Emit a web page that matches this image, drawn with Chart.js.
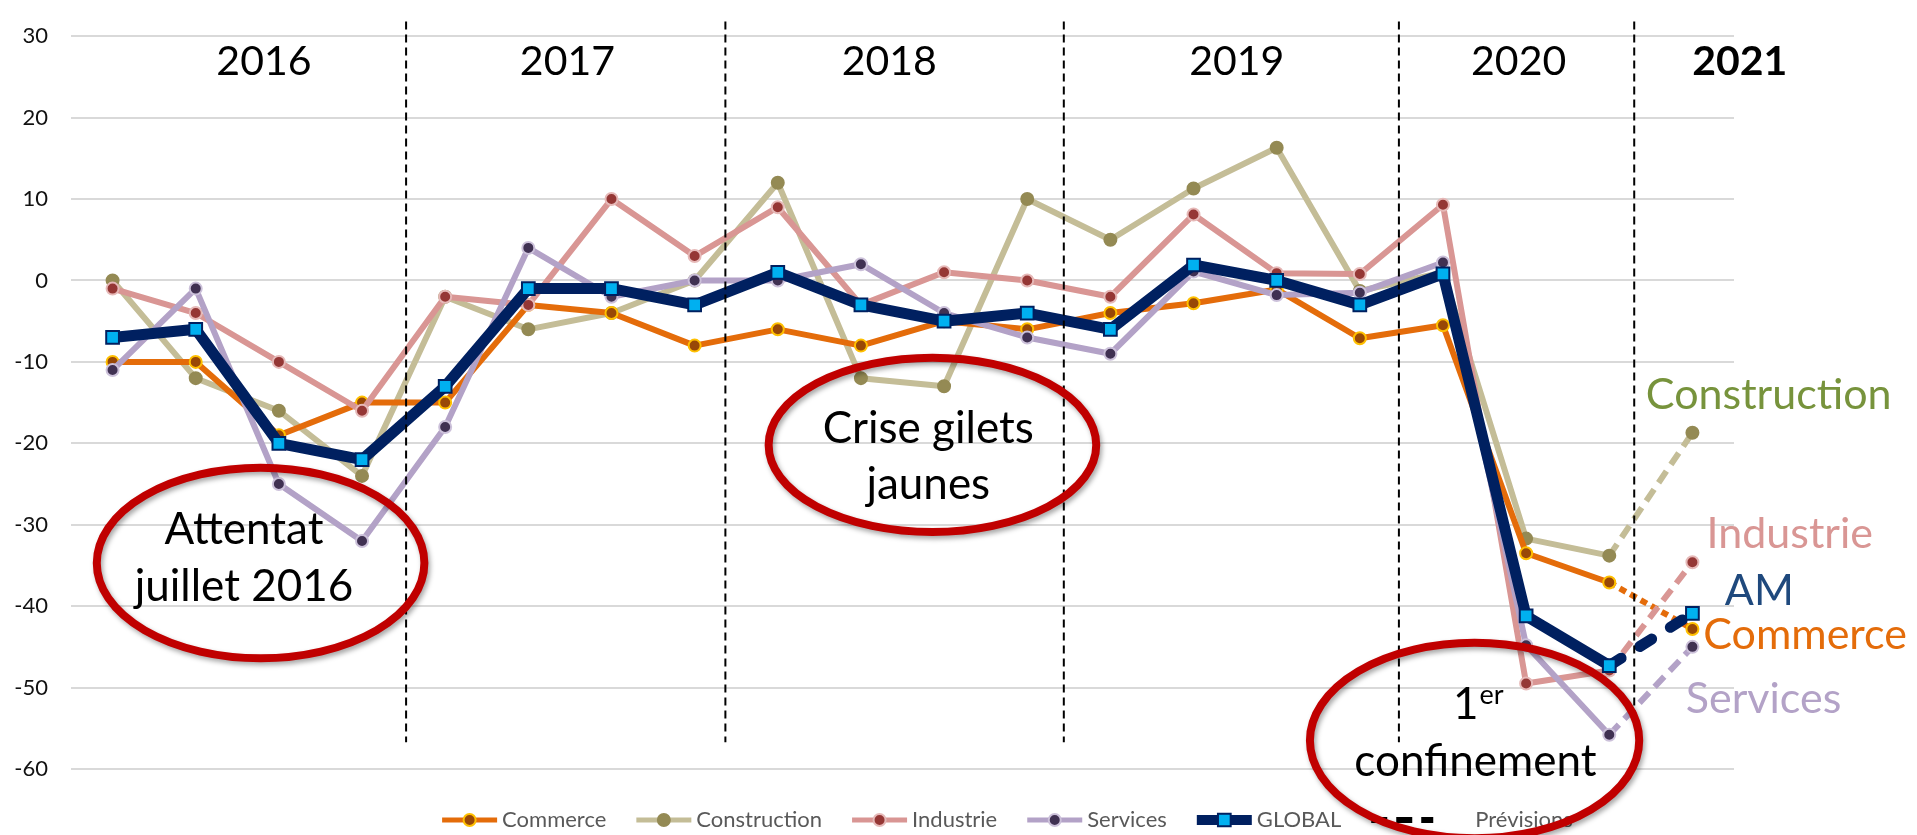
<!DOCTYPE html>
<html>
<head>
<meta charset="utf-8">
<title>Climat des affaires</title>
<script src="https://cdn.jsdelivr.net/npm/chart.js@4.4.1/dist/chart.umd.min.js"></script>
<style>
  html, body { margin: 0; padding: 0; background: #fff; }
  #wrap { width: 1917px; height: 835px; }
</style>
</head>
<body>
<div id="wrap"><canvas id="climat" width="1917" height="835"></canvas></div>
<script>
// periods : quarters 2016-2020, 2021 = forecast
var periods = ['2016 T1','2016 T2','2016 T3','2016 T4',
               '2017 T1','2017 T2','2017 T3','2017 T4',
               '2018 T1','2018 T2','2018 T3','2018 T4',
               '2019 T1','2019 T2','2019 T3','2019 T4',
               '2020 T1','2020 T2','2020 T3','2021'];
var years = ['2016','2017','2018','2019','2020','2021'];

var commerce     = [-10, -10, -19, -15, -15, -3, -4, -8, -6, -8, -5, -6, -4, -2.8, -1.1, -7.1, -5.5, -33.5, -37.1, -42.8];
var construction = [0, -12, -16, -24, -2, -6, -4, 0, 12, -12, -13, 10, 5, 11.3, 16.3, -1.3, 1, -31.7, -33.8, -18.7];
var industrie    = [-1, -4, -10, -16, -2, -3, 10, 3, 9, -3, 1, 0, -2, 8.1, 0.9, 0.8, 9.3, -49.5, -47.9, -34.6];
var services     = [-11, -1, -25, -32, -18, 4, -2, 0, 0, 2, -4, -7, -9, 1.1, -1.8, -1.5, 2.2, -44.8, -55.8, -45];
var global       = [-7, -6, -20, -22, -13, -1, -1, -3, 1, -3, -5, -4, -6, 1.9, 0, -3, 0.8, -41.2, -47.3, -40.9];

var yTicks = [30, 20, 10, 0, -10, -20, -30, -40, -50, -60];
var forecastFrom = periods.length - 1;   // last segment is dashed

var FONT = "Lato, 'Open Sans', sans-serif";
Chart.defaults.font.family = FONT;

// dashed only on the forecast segment
function forecastDash(dash) {
  return function(ctx) { return ctx.p1DataIndex === forecastFrom ? dash : undefined; };
}

function serie(label, data, line, fill, border, order, dash) {
  return {
    label: label,
    data: data,
    borderColor: line,
    borderWidth: 6,
    borderJoinStyle: 'round',
    pointRadius: 6,
    pointHoverRadius: 6,
    pointBackgroundColor: fill,
    pointBorderColor: border,
    pointBorderWidth: 2,
    tension: 0,
    fill: false,
    order: order,
    segment: { borderDash: forecastDash(dash) }
  };
}

var datasets = [
  serie('Commerce', commerce, '#e46c0a', '#984807', '#ffc000', 3, [7, 5]),
  serie('Construction', construction, '#c4bd97', '#948a54', '#948a54', 4, [14, 8]),
  serie('Industrie', industrie, '#d99694', '#953735', '#e6b9b8', 2, [14, 8]),
  serie('Services', services, '#b3a2c7', '#403152', '#ccc1da', 1, [14, 8]),
  {
    label: 'GLOBAL',
    data: global,
    borderColor: '#002060',
    borderWidth: 11,
    borderJoinStyle: 'round',
    pointStyle: 'rect',
    pointRadius: 9,
    pointHoverRadius: 9,
    pointBackgroundColor: '#00b0f0',
    pointBorderColor: '#002060',
    pointBorderWidth: 2,
    tension: 0,
    fill: false,
    order: 0,
    segment: {
      borderDash: forecastDash([14, 22]),
      borderCapStyle: function(ctx) { return ctx.p1DataIndex === forecastFrom ? 'round' : undefined; }
    }
  }
];

// positions of the slide decorations, in (category index, value) units
var dividers = [3.53, 7.37, 11.44, 15.47, 18.3];
var yearCenters = [1.82, 5.47, 9.34, 13.52, 16.91, 19.57];
var sideLabels = [
  { text: 'Construction', color: '#77933c', i: 18.44, v: -15.75 },
  { text: 'Industrie',    color: '#d99694', i: 19.17, v: -32.9 },
  { text: 'AM',           color: '#1f497d', i: 19.39, v: -39.9 },
  { text: 'Commerce',     color: '#e46c0a', i: 19.13, v: -45.3 },
  { text: 'Services',     color: '#b3a2c7', i: 18.92, v: -53.1 }
];
var bubbles = [
  { i: 1.78,  v: -34.7, ri: 1.97, rv: 11.7, lines: [['Attentat', 1.58, -32.4], ['juillet 2016', 1.58, -39.4]] },
  { i: 9.86,  v: -20.2, ri: 1.97, rv: 10.7, lines: [['Crise gilets', 9.81, -20.0], ['jaunes', 9.81, -26.9]] },
  { i: 16.38, v: -56.5, ri: 1.98, rv: 12.0, lines: [['confinement', 16.39, -60.8]] }
];

var decorations = {
  id: 'decorations',
  afterDraw: function(chart) {
    var ctx = chart.ctx, xs = chart.scales.x, ys = chart.scales.y;
    var px = function(i) { return xs.getPixelForValue(i); };
    var py = function(v) { return ys.getPixelForValue(v); };
    var H = Chart.helpers;

    ctx.save();
    // year separators
    ctx.strokeStyle = '#000';
    ctx.lineWidth = 2;
    ctx.setLineDash([8, 5]);
    dividers.forEach(function(d, k) {
      ctx.beginPath();
      ctx.moveTo(px(d), py(31.8));
      ctx.lineTo(px(d), py(k === dividers.length - 1 ? -53.5 : -56.7));
      ctx.stroke();
    });
    ctx.setLineDash([]);

    // years
    ctx.textAlign = 'center';
    ctx.textBaseline = 'alphabetic';
    ctx.fillStyle = '#000';
    years.forEach(function(yr, k) {
      ctx.font = (k === years.length - 1 ? 'bold ' : '') + '41px ' + FONT;
      ctx.fillText(yr, px(yearCenters[k]), py(25.2));
    });

    // series names on the right
    ctx.textAlign = 'left';
    ctx.font = '43px ' + FONT;
    sideLabels.forEach(function(l) {
      ctx.fillStyle = l.color;
      ctx.fillText(l.text, px(l.i), py(l.v));
    });

    // legend
    ctx.font = '22px ' + FONT;
    ctx.textBaseline = 'middle';
    var items = chart.data.datasets.map(function(ds) { return { text: ds.label, ds: ds, sym: 55, gap: 5 }; });
    items.push({ text: 'Prévisions', ds: null, sym: 62, gap: 42 });
    var spacing = 30, total = -spacing;
    items.forEach(function(it) {
      it.w = it.sym + it.gap + ctx.measureText(it.text).width;
      total += it.w + spacing;
    });
    var lx = chart.width / 2 + 49 - total / 2;
    var ly = chart.chartArea.bottom + 51;
    items.forEach(function(it) {
      ctx.beginPath();
      if (it.ds) {
        ctx.strokeStyle = it.ds.borderColor;
        ctx.lineWidth = it.ds.borderWidth - 1;
        ctx.setLineDash([]);
        ctx.moveTo(lx, ly); ctx.lineTo(lx + it.sym, ly); ctx.stroke();
        ctx.fillStyle = it.ds.pointBackgroundColor;
        ctx.strokeStyle = it.ds.pointBorderColor;
        ctx.lineWidth = it.ds.pointBorderWidth;
        H.drawPoint(ctx, { pointStyle: it.ds.pointStyle || 'circle', radius: it.ds.pointRadius, borderWidth: it.ds.pointBorderWidth, rotation: 0 }, lx + it.sym / 2, ly);
      } else {
        ctx.strokeStyle = '#000';
        ctx.lineWidth = 6;
        ctx.setLineDash([16, 9]);
        ctx.moveTo(lx, ly); ctx.lineTo(lx + it.sym, ly); ctx.stroke();
        ctx.setLineDash([]);
      }
      ctx.fillStyle = '#595959';
      ctx.fillText(it.text, lx + it.sym + it.gap, ly);
      lx += it.w + spacing;
    });

    // red ellipses with their notes
    bubbles.forEach(function(b) {
      var cx = px(b.i), cy = py(b.v);
      var rx = px(b.i + b.ri) - cx, ry = py(b.v - b.rv) - cy;
      ctx.save();
      ctx.shadowColor = 'rgba(0,0,0,0.35)';
      ctx.shadowBlur = 5;
      ctx.shadowOffsetX = 2;
      ctx.shadowOffsetY = 3;
      ctx.strokeStyle = '#c00000';
      ctx.lineWidth = 8;
      ctx.beginPath();
      ctx.ellipse(cx, cy, rx, ry, 0, 0, Math.PI * 2);
      ctx.stroke();
      ctx.restore();
      ctx.fillStyle = '#000';
      ctx.textAlign = 'center';
      ctx.textBaseline = 'alphabetic';
      ctx.font = '44px ' + FONT;
      b.lines.forEach(function(t) { ctx.fillText(t[0], px(t[1]), py(t[2])); });
    });
    // "1er" with superscript
    ctx.textAlign = 'left';
    ctx.font = '44px ' + FONT;
    var x1 = px(16.12), y1 = py(-53.9);
    ctx.fillText('1', x1, y1);
    var w1 = ctx.measureText('1').width;
    ctx.font = '27px ' + FONT;
    ctx.fillText('er', x1 + w1 + 1, y1 - 15);
    ctx.restore();
  }
};

new Chart(document.getElementById('climat'), {
  type: 'line',
  data: { labels: periods, datasets: datasets },
  plugins: [decorations],
  options: {
    responsive: false,
    animation: false,
    devicePixelRatio: 1,
    layout: { padding: { left: 0, right: 183, top: 22, bottom: 66 } },
    plugins: {
      legend: { display: false },
      tooltip: { enabled: false }
    },
    scales: {
      x: {
        display: false,
        offset: true
      },
      y: {
        min: -60,
        max: 30,
        afterFit: function(scale) { scale.width = 71; },
        afterBuildTicks: function(scale) {
          scale.ticks = yTicks.map(function(v) { return { value: v }; });
        },
        border: { display: false },
        grid: { color: '#d9d9d9', lineWidth: 2, drawTicks: false },
        ticks: { color: '#111', padding: 23, font: { size: 22 } }
      }
    }
  }
});
</script>
</body>
</html>
